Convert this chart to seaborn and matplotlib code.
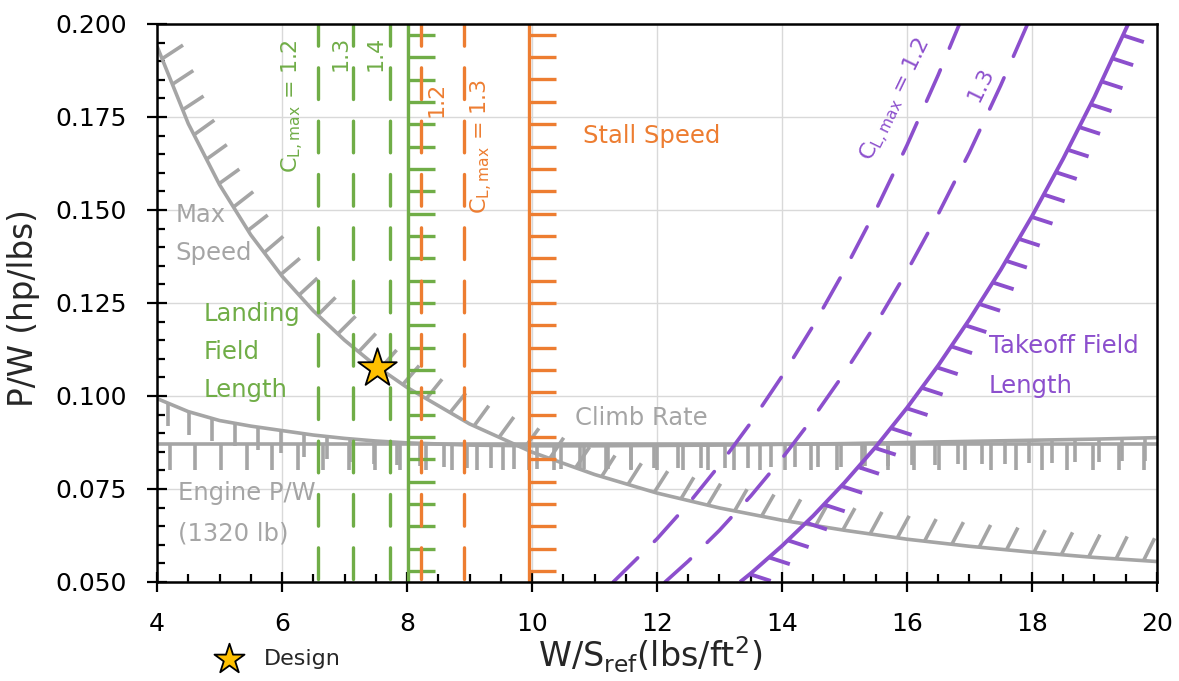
import numpy as np
import matplotlib
matplotlib.use("Agg")
import matplotlib.pyplot as plt
import matplotlib.patheffects as pe
from matplotlib.patheffects import AbstractPathEffect
from matplotlib.path import Path
from matplotlib.transforms import Affine2D
from matplotlib.ticker import MultipleLocator, FormatStrFormatter
import seaborn as sns

# ---------------- data ----------------
WS_LIMITS = [4, 20]
PW_LIMITS = [0.05, 0.20]
PW_TOP_DOWN = [0.20, 0.05]

MAX_SPEED_WS = [4, 4.5, 5, 5.5, 6, 6.5, 7, 7.5, 8, 9, 10, 11, 12, 13, 14, 15, 16, 17, 18, 19, 20]
MAX_SPEED_PW = [0.1940, 0.1732, 0.1568, 0.1433, 0.1322, 0.1229, 0.1150, 0.1081, 0.1023, 0.0925,
                0.0849, 0.0789, 0.0739, 0.0699, 0.0666, 0.0639, 0.0615, 0.0596, 0.0580, 0.0566, 0.0555]

CLIMB_WS = [4, 4.5, 5, 5.5, 6, 6.5, 7, 7.5, 8, 9, 10, 11, 12, 13, 14, 15, 16, 17, 18, 19, 20]
CLIMB_PW = [0.0993, 0.0958, 0.0934, 0.0919, 0.0907, 0.0895, 0.0886, 0.0879, 0.0874, 0.0868,
            0.0866, 0.0866, 0.0867, 0.0868, 0.0870, 0.0872, 0.0875, 0.0878, 0.0881, 0.0884, 0.0888]

ENGINE_WS = [4, 20]
ENGINE_PW = [0.0871, 0.0871]

LANDING_WS = 8.02
LANDING_CL_WS = [6.57, 7.14, 7.72]
LANDING_CL_LABELS = ["C$_{\\mathregular{L,max}}$ = 1.2", "1.3", "1.4"]

STALL_WS = 9.95
STALL_CL_WS = [8.23, 8.91]
STALL_CL_LABELS = ["1.2", "C$_{\\mathregular{L,max}}$ = 1.3"]

TAKEOFF_WS = [13.33, 13.5, 14, 14.5, 15, 15.5, 16, 16.5, 17, 17.5, 18, 18.5, 19, 19.54]
TAKEOFF_PW = [0.0500, 0.0523, 0.0597, 0.0678, 0.0767, 0.0863, 0.0968, 0.1082, 0.1206, 0.1339,
              0.1483, 0.1638, 0.1804, 0.2000]
TAKEOFF_CL12_WS = [11.30, 12, 12.5, 13, 13.5, 14, 14.5, 15, 15.5, 16, 16.5, 16.84]
TAKEOFF_CL12_PW = [0.0500, 0.0616, 0.0710, 0.0814, 0.0928, 0.1053, 0.1189, 0.1338, 0.1499, 0.1674,
                   0.1863, 0.2000]
TAKEOFF_CL13_WS = [12.13, 12.5, 13, 13.5, 14, 14.5, 15, 15.5, 16, 16.5, 17, 17.5, 17.93]
TAKEOFF_CL13_PW = [0.0500, 0.0556, 0.0639, 0.0731, 0.0832, 0.0942, 0.1062, 0.1193, 0.1335, 0.1489,
                   0.1655, 0.1835, 0.2000]
TAKEOFF_CL_LABELS = ["C$_{\\mathregular{L,max}}$ = 1.2", "1.3"]

DESIGN_WS = [7.52]
DESIGN_PW = [0.1075]

# ---------------- style ----------------
GRAY = "#A5A5A5"
GREEN = "#70AD47"
ORANGE = "#ED7D31"
PURPLE = "#8C4FCD"
STAR = "#FFC000"

sns.set_theme(style="whitegrid", rc={
    "axes.edgecolor": "black",
    "axes.linewidth": 1.8,
    "grid.color": "#D9D9D9",
    "grid.linewidth": 1.0,
    "xtick.color": "black",
    "ytick.color": "black",
})
plt.rcParams["font.family"] = ["DejaVu Sans"]
plt.rcParams["mathtext.fontset"] = "dejavusans"


class ScreenTicks(AbstractPathEffect):
    """Hatch ticks along a line; tick angle (screen degrees) = base + gain * tangent angle."""

    def __init__(self, spacing, length, base, gain=0.0):
        super().__init__()
        self._sp = spacing
        self._len = length
        self._base = base
        self._gain = gain

    def draw_path(self, renderer, gc, tpath, affine, rgbFace=None):
        xy = affine.transform(tpath.vertices)
        d = np.diff(xy, axis=0)
        ds = np.hypot(d[:, 0], d[:, 1])
        s = np.concatenate([[0.0], np.cumsum(ds)])
        sp = renderer.points_to_pixels(self._sp)
        L = renderer.points_to_pixels(self._len)
        n = int(np.ceil(s[-1] / sp)) - 1
        if n < 1:
            return
        st = np.linspace(sp / 2, s[-1] - sp / 2, n)
        x = np.interp(st, s, xy[:, 0])
        y = np.interp(st, s, xy[:, 1])
        idx = np.clip(np.searchsorted(s, st) - 1, 0, len(d) - 1)
        tang = np.degrees(np.arctan2(d[idx, 1], d[idx, 0]))
        ang = np.radians(self._base + self._gain * tang)
        verts = np.empty((2 * n, 2))
        verts[0::2, 0] = x
        verts[0::2, 1] = y
        verts[1::2, 0] = x + L * np.cos(ang)
        verts[1::2, 1] = y + L * np.sin(ang)
        codes = np.tile([Path.MOVETO, Path.LINETO], n)
        gc0 = renderer.new_gc()
        gc0.copy_properties(gc)
        renderer.draw_path(gc0, Path(verts, codes), Affine2D())
        gc0.restore()


fig = plt.figure(figsize=(11.79, 6.81), dpi=100)
ax = fig.add_axes([0.1332, 0.1454, 0.8481, 0.8194])

DASH_V = (3.0, (9.5, 6.5))
DASH_C = (0, (9.5, 6.5))


def draw(xs, ys, color, lw, z, dash=None, ticks=None):
    kw = dict(x=xs, y=ys, estimator=None, sort=False, ax=ax, color=color,
              linewidth=lw, zorder=z, legend=False)
    if dash is not None:
        kw.update(linestyle=dash, dash_capstyle="round")
    else:
        kw.update(solid_capstyle="butt")
    if ticks is not None:
        kw["path_effects"] = [ScreenTicks(*ticks), pe.Normal()]
    sns.lineplot(**kw)


# gray constraints  (ticks: spacing pt, length pt, base angle, gain)
draw(MAX_SPEED_WS, MAX_SPEED_PW, GRAY, 2.6, 3, ticks=(19.4, 18.0, 65.4, 0.473))
draw(CLIMB_WS, CLIMB_PW, GRAY, 2.6, 3, ticks=(16.5, 16.5, -90, 0.0))
draw(ENGINE_WS, ENGINE_PW, GRAY, 2.6, 3, ticks=(18.0, 18.7, -90, 0.0))

# landing field length (green)
for xv in LANDING_CL_WS:
    draw([xv, xv], PW_TOP_DOWN, GREEN, 2.4, 4, dash=DASH_V)
draw([LANDING_WS, LANDING_WS], PW_LIMITS, GREEN, 2.4, 4, ticks=(15.8, 19.4, 0, 0.0))

# stall speed (orange)
for xv in STALL_CL_WS:
    draw([xv, xv], PW_TOP_DOWN, ORANGE, 2.4, 4, dash=DASH_V)
draw([STALL_WS, STALL_WS], PW_LIMITS, ORANGE, 2.4, 4, ticks=(15.6, 19.4, 0, 0.0))

# takeoff field length (purple)
draw(TAKEOFF_CL12_WS, TAKEOFF_CL12_PW, PURPLE, 2.6, 5, dash=DASH_C)
draw(TAKEOFF_CL13_WS, TAKEOFF_CL13_PW, PURPLE, 2.6, 5, dash=DASH_C)
draw(TAKEOFF_WS, TAKEOFF_PW, PURPLE, 2.8, 5, ticks=(18.0, 15.8, -18, 0.0))

# design point
sns.scatterplot(x=DESIGN_WS, y=DESIGN_PW, marker="*", s=850, color=STAR,
                edgecolor="black", linewidth=1.3, zorder=10, ax=ax, label="Design")

# ---------------- axes ----------------
ax.set_xlim(*WS_LIMITS)
ax.set_ylim(*PW_LIMITS)
ax.xaxis.set_major_locator(MultipleLocator(2))
ax.xaxis.set_minor_locator(MultipleLocator(0.5))
ax.yaxis.set_major_locator(MultipleLocator(0.025))
ax.yaxis.set_minor_locator(MultipleLocator(0.005))
ax.yaxis.set_major_formatter(FormatStrFormatter("%.3f"))
ax.grid(True, which="major")
ax.grid(False, which="minor")
ax.tick_params(which="major", direction="inout", length=14, width=1.6, labelsize=18,
               pad=14.5, bottom=True, left=True, top=False, right=False)
ax.tick_params(which="minor", direction="in", length=6, width=1.6,
               bottom=True, left=True, top=False, right=False)
for s in ax.spines.values():
    s.set_color("black")
    s.set_linewidth(1.8)
    s.set_zorder(20)

ax.set_xlabel("W/S$_{\\mathregular{ref}}$(lbs/ft$^{\\mathregular{2}}$)", fontsize=24)
ax.set_ylabel("P/W (hp/lbs)", fontsize=23.5)
ax.xaxis.set_label_coords(0.493, -0.095)
ax.yaxis.set_label_coords(-0.117, 0.49)

# ---------------- annotations ----------------
TXT = dict(fontsize=17.5, zorder=12)
ax.text(4.29, 0.1435, "Max\nSpeed", color=GRAY, ha="left", va="center", linespacing=1.75, **TXT)
ax.text(4.74, 0.1118, "Landing\nField\nLength", color=GREEN, ha="left", va="center",
        linespacing=1.75, **TXT)
ax.text(4.34, 0.0685, "Engine P/W\n(1320 lb)", color=GRAY, ha="left", va="center",
        linespacing=1.85, **TXT)
ax.text(10.69, 0.0941, "Climb Rate", color=GRAY, ha="left", va="center", **TXT)
ax.text(10.82, 0.1699, "Stall Speed", color=ORANGE, ha="left", va="center", **TXT)
ax.text(17.31, 0.108, "Takeoff Field\nLength", color=PURPLE, ha="left", va="center",
        linespacing=1.85, **TXT)

ROT = dict(fontsize=16, ha="center", va="center", rotation_mode="anchor", zorder=12)
land_pos = [(6.18, 0.178), (6.93, 0.192), (7.49, 0.192)]
for (px, py), lab in zip(land_pos, LANDING_CL_LABELS):
    ax.text(px, py, lab, color=GREEN, rotation=90, **ROT)
stall_pos = [(8.48, 0.1796), (9.2, 0.167)]
for (px, py), lab in zip(stall_pos, STALL_CL_LABELS):
    ax.text(px, py, lab, color=ORANGE, rotation=90, **ROT)
to_pos = [(15.84, 0.1796), (17.19, 0.1836)]
for (px, py), lab in zip(to_pos, TAKEOFF_CL_LABELS):
    ax.text(px, py, lab, color=PURPLE, rotation=64, **ROT)

# legend
ax.legend(loc="center left", bbox_to_anchor=(0.1825, 0.0323), bbox_transform=fig.transFigure,
          frameon=False, fontsize=16, handlelength=1.25, handletextpad=0.95,
          borderpad=0, borderaxespad=0, markerscale=0.78)

fig.savefig("out.png", dpi=100)
